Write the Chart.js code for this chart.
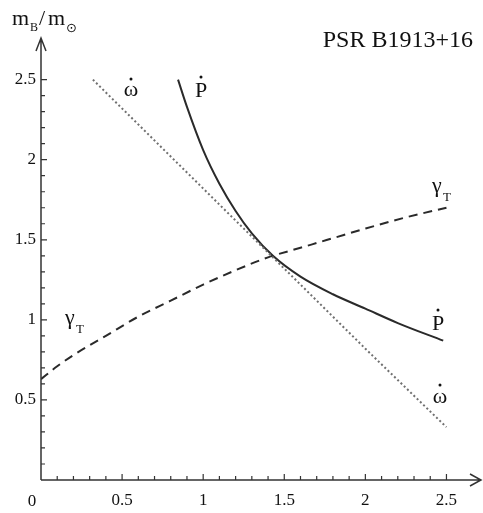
<!DOCTYPE html>
<html>
<head>
<meta charset="utf-8">
<script src="https://cdn.jsdelivr.net/npm/chart.js@4/dist/chart.umd.min.js"></script>
<style>
	body { margin: 0; background: #fff; }
	#wrap { width: 483px; height: 513px; }
</style>
</head>
<body>
<div id="wrap"><canvas id="chart" width="483" height="513"></canvas></div>
<script>
// curves (m_A on x, m_B on y, in solar masses)
const omegaX = [0.32, 1.0, 1.5, 2.0, 2.5];
const omegaY = [2.50, 1.82, 1.32, 0.82, 0.33];

const pdotX = [0.845, 0.9, 1.0, 1.1, 1.2, 1.3, 1.43, 1.6, 1.8, 2.0, 2.2, 2.48];
const pdotY = [2.50, 2.33, 2.06, 1.85, 1.68, 1.54, 1.40, 1.27, 1.16, 1.07, 0.98, 0.87];

const gammaX = [0, 0.1, 0.2, 0.4, 0.6, 0.8, 1.0, 1.2, 1.4, 1.6, 1.8, 2.0, 2.25, 2.5];
const gammaY = [0.63, 0.71, 0.78, 0.90, 1.02, 1.12, 1.22, 1.31, 1.39, 1.45, 1.51, 1.57, 1.64, 1.70];

const majorTicks = [0.5, 1, 1.5, 2, 2.5];
const minorStep = 0.1;

const serif = "\"Liberation Serif\", \"DejaVu Serif\", serif";
const ink = "#111";

function toPoints (xs, ys) {
	return xs.map((x, i) => ({ x: x, y: ys[i] }));
}

function tickLabel (value) {
	const v = Math.round(value * 100) / 100;
	return majorTicks.includes(v) ? String(v) : "";
}

// axis lines with arrows, inward ticks and the free text of the figure
const decorations = {
	id: "decorations",
	afterDraw (chart) {
		const ctx = chart.ctx;
		const xs = chart.scales.x;
		const ys = chart.scales.y;
		const x0 = xs.getPixelForValue(0);
		const y0 = ys.getPixelForValue(0);
		const area = chart.chartArea;
		ctx.save();
		ctx.strokeStyle = "#333";
		ctx.lineWidth = 1.5;
		ctx.beginPath();
		ctx.moveTo(x0, y0);
		ctx.lineTo(area.right, y0);
		ctx.moveTo(x0, y0);
		ctx.lineTo(x0, area.top);
		// arrow heads
		ctx.moveTo(area.right - 11, y0 - 6);
		ctx.lineTo(area.right, y0);
		ctx.lineTo(area.right - 11, y0 + 6);
		ctx.moveTo(x0 - 5, area.top + 13);
		ctx.lineTo(x0, area.top);
		ctx.lineTo(x0 + 5, area.top + 13);
		ctx.stroke();

		ctx.lineWidth = 1.2;
		ctx.beginPath();
		for (let i = 1; i <= 25; i++) {
			const v = i * minorStep;
			const len = i % 5 === 0 ? 6 : 4;
			const px = xs.getPixelForValue(v);
			ctx.moveTo(px, y0);
			ctx.lineTo(px, y0 - len);
			const py = ys.getPixelForValue(v);
			ctx.moveTo(x0, py);
			ctx.lineTo(x0 + len, py);
		}
		ctx.stroke();

		ctx.fillStyle = ink;
		ctx.textBaseline = "alphabetic";
		ctx.textAlign = "center";
		ctx.font = `17px ${serif}`;
		ctx.fillText("0", 32, 506);

		// axis title m_B/m_sun
		ctx.textAlign = "left";
		ctx.font = `22px ${serif}`;
		ctx.fillText("m", 12, 25);
		ctx.font = `12px ${serif}`;
		ctx.fillText("B", 30, 31);
		ctx.font = `22px ${serif}`;
		ctx.fillText("/", 39, 25);
		ctx.fillText("m", 48, 25);
		ctx.font = `13px "DejaVu Sans", sans-serif`;
		ctx.fillText("\u2299", 66, 32);

		ctx.textAlign = "right";
		ctx.font = `24px ${serif}`;
		ctx.fillText("PSR B1913+16", 473, 47);

		ctx.textAlign = "center";
		ctx.font = `22px ${serif}`;
		const dotted = (txt, x, y, dy) => {
			ctx.fillText(txt, x, y);
			ctx.beginPath();
			ctx.arc(x, y - dy, 1.5, 0, Math.PI * 2);
			ctx.fill();
		};
		dotted("\u03c9", 131, 96, 17);
		dotted("P", 201, 97, 20);
		dotted("P", 438, 330, 20);
		dotted("\u03c9", 440, 403, 18);

		ctx.textAlign = "left";
		const gamma = (x, y) => {
			ctx.font = `22px ${serif}`;
			ctx.fillText("\u03b3", x, y);
			ctx.font = `13px ${serif}`;
			ctx.fillText("T", x + 11, y + 9);
		};
		gamma(432, 192);
		gamma(65, 324);
		ctx.restore();
	}
};

new Chart(document.querySelector("#chart"), {
	type: "scatter",
	data: {
		datasets: [
			{
				label: "omega dot",
				data: toPoints(omegaX, omegaY),
				showLine: true,
				borderColor: "#707070",
				borderWidth: 2,
				borderDash: [2, 2.5],
				pointRadius: 0,
				tension: 0
			},
			{
				label: "P dot",
				data: toPoints(pdotX, pdotY),
				showLine: true,
				borderColor: "#2a2a2a",
				borderWidth: 2,
				pointRadius: 0,
				cubicInterpolationMode: "monotone"
			},
			{
				label: "gamma T",
				data: toPoints(gammaX, gammaY),
				showLine: true,
				borderColor: "#2a2a2a",
				borderWidth: 2,
				borderDash: [9, 6],
				pointRadius: 0,
				cubicInterpolationMode: "monotone"
			}
		]
	},
	options: {
		responsive: false,
		animation: false,
		layout: { padding: { top: 38, right: 2, left: 0, bottom: 0 } },
		plugins: {
			legend: { display: false },
			tooltip: { enabled: false }
		},
		scales: {
			x: {
				type: "linear",
				min: 0,
				max: 2.713,
				grid: { display: false, drawTicks: false },
				border: { display: false },
				ticks: {
					stepSize: 0.5,
					includeBounds: false,
					autoSkip: false,
					maxRotation: 0,
					padding: 10,
					color: ink,
					font: { family: serif, size: 17 },
					callback: (v) => (v === 0 ? "" : tickLabel(v))
				},
				afterFit: (scale) => { scale.height = 33; }
			},
			y: {
				type: "linear",
				min: 0,
				max: 2.76,
				grid: { display: false, drawTicks: false },
				border: { display: false },
				ticks: {
					stepSize: 0.5,
					includeBounds: false,
					autoSkip: false,
					padding: 5,
					color: ink,
					font: { family: serif, size: 17 },
					callback: (v) => (v === 0 ? "" : tickLabel(v))
				},
				afterFit: (scale) => { scale.width = 41; }
			}
		}
	},
	plugins: [decorations]
});
</script>
</body>
</html>
